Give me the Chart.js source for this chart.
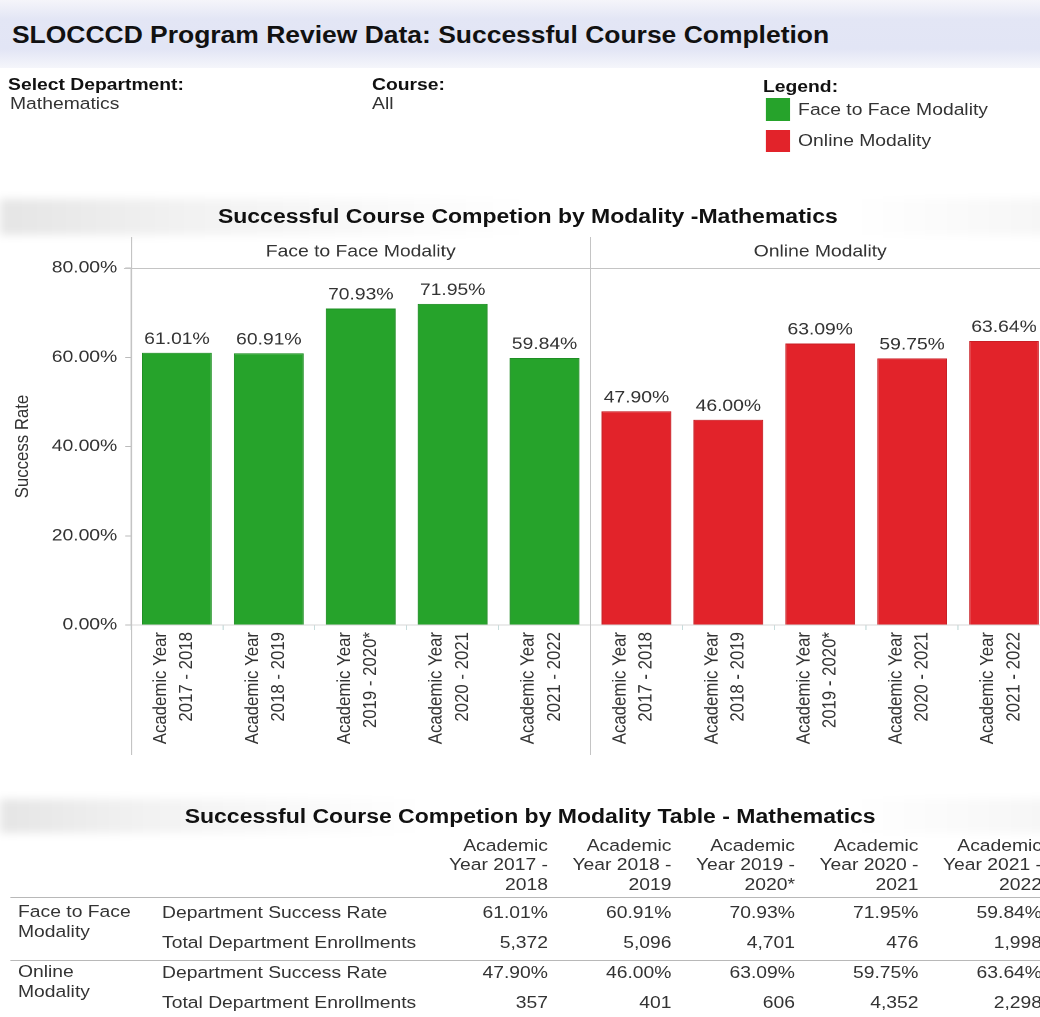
<!DOCTYPE html>
<html>

<head>
    <meta charset="UTF-8">
    <title>SLOCCCD Program Review Data</title>
    <script src="https://cdn.jsdelivr.net/npm/chart.js"></script>
    <style>
        html, body { margin: 0; padding: 0; background: #fff; overflow: hidden; }
        body { width: 1040px; height: 1017px; position: relative; font-family: "Liberation Sans", Arial, sans-serif; color: #333; }
        /* the dashboard is laid out narrow and stretched sideways */
        #page { position: absolute; left: 0; top: 0; width: 925px; height: 1017px; transform: scaleX(1.15); transform-origin: 0 0; }
        .t { position: absolute; white-space: nowrap; font-size: 16.8px; line-height: 20px; transform: translateY(-50%); }
        .b { font-weight: bold; color: #111; }
        .c { transform: translate(-50%, -50%); }
        .r { transform: translate(-100%, -50%); text-align: right; }
        .band { position: absolute; left: 0; width: 925px; }
        .swatch { position: absolute; width: 21px; }
        .rule { position: absolute; left: 8.7px; width: 920px; height: 1px; background: #b8b8b8; }
    </style>
</head>

<body>
    <div id="page">
        <div class="band" style="top:0;height:68px;background:linear-gradient(180deg,#f5f5fa 0%,#e3e6f5 28%,#e2e5f5 72%,#f5f6fb 100%);"></div>
        <div class="band" style="top:199px;height:36px;filter:blur(4px);background:linear-gradient(90deg,rgba(0,0,0,0.10) 0%,rgba(0,0,0,0.05) 18%,rgba(0,0,0,0.0) 50%,rgba(0,0,0,0.0) 80%,rgba(0,0,0,0.04) 100%);"></div>
        <div class="band" style="top:799px;height:34px;filter:blur(4px);background:linear-gradient(90deg,rgba(0,0,0,0.10) 0%,rgba(0,0,0,0.05) 14%,rgba(0,0,0,0.0) 40%,rgba(0,0,0,0.0) 80%,rgba(0,0,0,0.04) 100%);"></div>

        <div class="t b" style="left:10.4px;top:35px;font-size:23px;line-height:28px;">SLOCCCD Program Review Data: Successful Course Completion</div>

        <div class="t b" style="left:7px;top:85px;">Select Department:</div>
        <div class="t" style="left:8.7px;top:104px;">Mathematics</div>
        <div class="t b" style="left:323.5px;top:85px;">Course:</div>
        <div class="t" style="left:323.5px;top:104px;">All</div>

        <div class="t b" style="left:663.5px;top:87px;">Legend:</div>
        <div class="swatch" id="sw0" style="left:666px;top:98px;height:23px;"></div>
        <div class="t" id="lg0" style="left:694px;top:110px;"></div>
        <div class="swatch" id="sw1" style="left:666px;top:130px;height:22px;"></div>
        <div class="t" id="lg1" style="left:694px;top:141px;"></div>

        <div class="t b c" style="left:459px;top:216px;font-size:20px;line-height:24px;">Successful Course Competion by Modality -Mathematics</div>

        <canvas id="chart" width="925" height="540" style="position:absolute;left:0;top:230px;"></canvas>

        <div class="t b c" style="left:461px;top:816px;font-size:20px;line-height:24px;">Successful Course Competion by Modality Table - Mathematics</div>
        <div class="rule" style="top:897px;"></div>
        <div class="rule" style="top:960px;"></div>
    </div>

    <script>
        // academic years and the two delivery modalities
        const years = ['2017 - 2018', '2018 - 2019', '2019 - 2020*', '2020 - 2021', '2021 - 2022'];
        const modalities = ['Face to Face Modality', 'Online Modality'];
        const modalityColors = ['#26a32b', '#e2232a'];
        const modalityBorders = ['#1f8f24', '#c91e24'];

        // department success rate (%) per year
        const faceToFaceRate = [61.01, 60.91, 70.93, 71.95, 59.84];
        const onlineRate = [47.90, 46.00, 63.09, 59.75, 63.64];

        // total department enrollments per year
        const faceToFaceEnroll = [5372, 5096, 4701, 476, 1998];
        const onlineEnroll = [357, 401, 606, 4352, 2298];

        const yTicks = [0, 20, 40, 60, 80];

        const rates = [faceToFaceRate, onlineRate];
        const enrolls = [faceToFaceEnroll, onlineEnroll];
        const pct = v => v.toFixed(2) + '%';

        // legend
        modalities.forEach((m, i) => {
            document.getElementById('sw' + i).style.background = modalityColors[i];
            document.getElementById('lg' + i).textContent = m;
        });

        // one bar per (modality, year), panel by panel
        const labels = [];
        const values = [];
        const colors = [];
        const borders = [];
        modalities.forEach((m, i) => {
            years.forEach((y, j) => {
                labels.push(['Academic Year', y]);
                values.push(rates[i][j]);
                colors.push(modalityColors[i]);
                borders.push(modalityBorders[i]);
            });
        });

        const FONT = { family: '"Liberation Sans", Arial, sans-serif', size: 16.8 };

        // value above each bar
        const barValues = {
            id: 'barValues',
            afterDatasetsDraw(chart) {
                const ctx = chart.ctx;
                const meta = chart.getDatasetMeta(0);
                ctx.save();
                ctx.font = FONT.size + 'px ' + FONT.family;
                ctx.fillStyle = '#333';
                ctx.textAlign = 'center';
                ctx.textBaseline = 'bottom';
                meta.data.forEach((bar, i) => {
                    ctx.fillText(pct(values[i]), bar.x, bar.y - 5);
                });
                ctx.restore();
            }
        };

        // panel dividers, panel headers and the header rule
        const panels = {
            id: 'panels',
            afterDraw(chart) {
                const ctx = chart.ctx;
                const xs = chart.scales.x;
                const area = chart.chartArea;
                const slot = xs.width / labels.length;
                ctx.save();
                ctx.strokeStyle = '#c4c4c4';
                ctx.lineWidth = 1;
                ctx.beginPath();
                ctx.moveTo(area.left - 6, area.top + 0.5);
                ctx.lineTo(chart.width, area.top + 0.5);
                ctx.stroke();
                ctx.font = FONT.size + 'px ' + FONT.family;
                ctx.fillStyle = '#333';
                ctx.textAlign = 'center';
                ctx.textBaseline = 'middle';
                modalities.forEach((m, i) => {
                    const first = i * years.length;
                    const last = first + years.length - 1;
                    const left = xs.getPixelForValue(first) - slot / 2;
                    const right = xs.getPixelForValue(last) + slot / 2;
                    ctx.beginPath();
                    ctx.moveTo(Math.round(left) + 0.5, 7);
                    ctx.lineTo(Math.round(left) + 0.5, 525);
                    ctx.stroke();
                    ctx.fillText(m, (left + right) / 2, 22);
                });
                ctx.restore();
            }
        };

        new Chart(document.getElementById('chart'), {
            type: 'bar',
            data: {
                labels: labels,
                datasets: [{
                    data: values,
                    backgroundColor: colors,
                    borderColor: borders,
                    borderWidth: 1,
                    barPercentage: 0.76,
                    categoryPercentage: 1
                }]
            },
            options: {
                responsive: false,
                animation: false,
                devicePixelRatio: 2,
                layout: { padding: { top: 38, right: 12, left: 0, bottom: 0 } },
                plugins: {
                    legend: { display: false },
                    tooltip: { enabled: false }
                },
                scales: {
                    x: {
                        afterFit: s => { s.height = 145; },
                        ticks: {
                            minRotation: 90, maxRotation: 90, autoSkip: false,
                            color: '#333', padding: 2, labelOffset: -14,
                            font: { family: FONT.family, size: FONT.size, lineHeight: 1.35 }
                        },
                        grid: { drawOnChartArea: false, tickLength: 5, color: '#c6dcdc', offset: true },
                        border: { color: '#d6d6d6' }
                    },
                    y: {
                        min: 0,
                        max: 80,
                        afterFit: s => { s.width = 113.9; },
                        afterBuildTicks: s => { s.ticks = yTicks.map(v => ({ value: v })); },
                        ticks: {
                            callback: v => pct(v),
                            color: '#333', padding: 7,
                            font: { family: FONT.family, size: FONT.size }
                        },
                        grid: { drawOnChartArea: false, tickLength: 5, color: '#bbb' },
                        border: { color: '#c4c4c4' },
                        title: {
                            display: true, text: 'Success Rate', color: '#333',
                            font: { family: FONT.family, size: FONT.size },
                            padding: { top: 10, bottom: 0 }
                        }
                    }
                }
            },
            plugins: [barValues, panels]
        });

        // summary table under the chart
        const page = document.getElementById('page');
        function addText(text, x, y, cls) {
            const el = document.createElement('div');
            el.className = 't ' + (cls || '');
            el.textContent = text;
            el.style.left = x + 'px';
            el.style.top = y + 'px';
            page.appendChild(el);
        }

        const colRight = 476.5;
        const colStep = 107.4;
        years.forEach((y, j) => {
            const x = colRight + j * colStep;
            const parts = y.split(' - ');
            addText('Academic', x, 846, 'r');
            addText('Year ' + parts[0] + ' -', x, 865, 'r');
            addText(parts[1], x, 885, 'r');
        });

        const groupLabels = [['Face to Face', 'Modality'], ['Online', 'Modality']];
        const groupTop = [912, 972];
        modalities.forEach((m, i) => {
            const y0 = groupTop[i];
            addText(groupLabels[i][0], 15.7, y0);
            addText(groupLabels[i][1], 15.7, y0 + 20);
            addText('Department Success Rate', 140.9, y0 + 1);
            addText('Total Department Enrollments', 140.9, y0 + 31);
            years.forEach((y, j) => {
                const x = colRight + j * colStep;
                addText(pct(rates[i][j]), x, y0 + 1, 'r');
                addText(enrolls[i][j].toLocaleString('en-US'), x, y0 + 31, 'r');
            });
        });
    </script>
</body>

</html>
